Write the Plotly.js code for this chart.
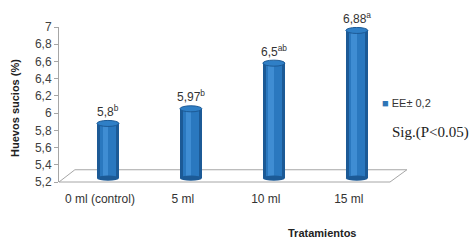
<!DOCTYPE html>
<html><head><meta charset="utf-8">
<script src="https://cdn.plot.ly/plotly-3.0.1.min.js"></script>
<style>html,body{margin:0;padding:0;background:#fff}#c{width:474px;height:248px}</style>
</head><body><div id="c"></div>
<script>
const categories = ["0 ml (control)", "5 ml", "10 ml", "15 ml"];
const values = [5.8, 5.97, 6.5, 6.88];
const letters = ["b", "b", "ab", "a"];
const seriesName = "EE\u00b1 0,2";
const yTicks = [5.2, 5.4, 5.6, 5.8, 6, 6.2, 6.4, 6.6, 6.8, 7];

const base = 5.245, depth = 0.08, W = 0.265;
const xi = categories.map((c, i) => i);
const fmt = v => String(v).replace('.', ',');
const tops = values.map(v => v + depth);

const traces = [
  {type:'bar', x: xi, y: tops.map(t => t - base), base: base, width: W,
   marker:{color:'#1c5a96', line:{width:0}}, name: seriesName, showlegend:false, hoverinfo:'skip'},
  {type:'bar', x: xi, y: tops.map(t => t - base), base: base, width: W*0.72,
   marker:{color:'#2a78bf', line:{width:0}}, showlegend:false, hoverinfo:'skip'},
  {type:'bar', x: xi.map(i => i - W*0.12), y: tops.map(t => t - base), base: base, width: W*0.25,
   marker:{color:'#3f8dd3', line:{width:0}}, showlegend:false, hoverinfo:'skip'}
];

const shapes = [
  {type:'path', xref:'paper', yref:'paper',
   path:'M 0 0 L 1 0 L 1.051 0.079 L 0.048 0.079 Z',
   line:{color:'#a6a6a6', width:1}, fillcolor:'rgba(0,0,0,0)', layer:'below'}
];
tops.forEach((t, i) => {
  shapes.push({type:'circle', xref:'x', yref:'y', x0: i - W/2, x1: i + W/2, y0: base - 0.03, y1: base + 0.03,
    fillcolor:'#1c5a96', line:{width:0}});
  shapes.push({type:'circle', xref:'x', yref:'y', x0: i - W/2, x1: i + W/2, y0: t - 0.035, y1: t + 0.035,
    fillcolor:'#2f7fc6', line:{color:'#1c5a96', width:1}});
});

const annotations = values.map((v, i) => ({
  x: i, y: tops[i] + 0.03, xref:'x', yref:'y', yanchor:'bottom', showarrow:false,
  text: fmt(v) + '<sup>' + letters[i] + '</sup>', font:{size:12, color:'#333'}
}));
annotations.push({xref:'paper', yref:'paper', x:0.795, y:-0.33, xanchor:'center', yanchor:'middle', showarrow:false,
  text:'<b>Tratamientos</b>', font:{size:11, color:'#222'}});
annotations.push({xref:'paper', yref:'paper', x:-0.135, y:0.48, xanchor:'center', yanchor:'middle', textangle:-90, showarrow:false,
  text:'<b>Huevos sucios (%)</b>', font:{size:11, color:'#222'}});
annotations.push({xref:'paper', yref:'paper', x:0.97, y:0.51, xanchor:'left', yanchor:'middle', showarrow:false,
  text:'<span style="color:#2e75b6">\u25A0</span> ' + seriesName, font:{size:11, color:'#333'}});
annotations.push({xref:'paper', yref:'paper', x:1.0, y:0.32, xanchor:'left', yanchor:'middle', showarrow:false,
  text:'Sig.(P<0.05)', font:{family:'Liberation Serif, Times New Roman, serif', size:15, color:'#222'}});

const layout = {
  width:474, height:248, margin:{l:59, r:84, t:27, b:66},
  paper_bgcolor:'#fff', plot_bgcolor:'rgba(0,0,0,0)',
  separators: ',.',
  font:{family:'Liberation Sans, Arial, sans-serif', size:12, color:'#404040'},
  barmode:'overlay', bargap:0, showlegend:false,
  xaxis:{range:[-0.59, 3.4], tickvals: xi, ticktext: categories, showgrid:false, zeroline:false,
    showline:false, ticks:'', tickfont:{size:12, color:'#333'}, ticklabelstandoff: 8, ticklabelshift:-8, fixedrange:true},
  yaxis:{range:[5.2, 7], tickvals: yTicks, ticktext: yTicks.map(fmt), showgrid:false, zeroline:false,
    showline:true, linecolor:'#a6a6a6', linewidth:1, ticks:'outside', ticklen:4, tickcolor:'#a6a6a6',
    tickfont:{size:12, color:'#404040'}, fixedrange:true},
  shapes: shapes, annotations: annotations
};

Plotly.newPlot('c', traces, layout, {staticPlot:true, displayModeBar:false});
</script></body></html>
